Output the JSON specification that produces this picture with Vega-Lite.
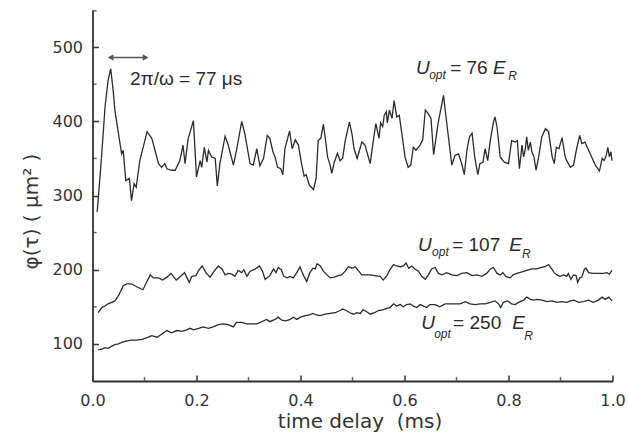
{
  "$schema": "https://vega.github.io/schema/vega-lite/v6.json",
  "width": 520,
  "height": 371,
  "autosize": "none",
  "padding": {"left": 92.5, "top": 10, "right": 15.5, "bottom": 62},
  "background": "white",
  "config": {
    "view": {"stroke": null},
    "axis": {
      "grid": false,
      "domainColor": "#333",
      "domainWidth": 1.8,
      "tickColor": "#333",
      "tickWidth": 1.5,
      "labelFont": "DejaVu Sans",
      "labelFontSize": 16,
      "labelColor": "#333",
      "labelOverlap": false,
      "labelFlush": false,
      "titleFont": "DejaVu Sans",
      "titleFontWeight": "normal",
      "titleColor": "#333"
    }
  },
  "datasets": {
    "u76": [
      {"t":0.009,"phi":278},{"t":0.015,"phi":330},{"t":0.021,"phi":388},{"t":0.024,"phi":419},{"t":0.030,"phi":455},{"t":0.035,"phi":471},{"t":0.040,"phi":440},{"t":0.043,"phi":415},{"t":0.050,"phi":383},{"t":0.056,"phi":356},{"t":0.059,"phi":361},{"t":0.064,"phi":320},{"t":0.071,"phi":323},{"t":0.075,"phi":293},{"t":0.080,"phi":316},{"t":0.084,"phi":311},{"t":0.091,"phi":347},{"t":0.105,"phi":386},{"t":0.114,"phi":377},{"t":0.127,"phi":343},{"t":0.133,"phi":338},{"t":0.139,"phi":343},{"t":0.143,"phi":336},{"t":0.152,"phi":334},{"t":0.159,"phi":334},{"t":0.168,"phi":347},{"t":0.174,"phi":368},{"t":0.178,"phi":343},{"t":0.184,"phi":377},{"t":0.188,"phi":386},{"t":0.194,"phi":401},{"t":0.200,"phi":325},{"t":0.207,"phi":347},{"t":0.210,"phi":338},{"t":0.215,"phi":365},{"t":0.220,"phi":345},{"t":0.223,"phi":361},{"t":0.229,"phi":352},{"t":0.236,"phi":350},{"t":0.240,"phi":313},{"t":0.245,"phi":343},{"t":0.255,"phi":380},{"t":0.261,"phi":368},{"t":0.271,"phi":341},{"t":0.277,"phi":361},{"t":0.287,"phi":400},{"t":0.293,"phi":383},{"t":0.303,"phi":343},{"t":0.309,"phi":341},{"t":0.316,"phi":363},{"t":0.322,"phi":340},{"t":0.329,"phi":350},{"t":0.336,"phi":381},{"t":0.341,"phi":377},{"t":0.347,"phi":359},{"t":0.351,"phi":352},{"t":0.356,"phi":338},{"t":0.362,"phi":336},{"t":0.366,"phi":328},{"t":0.370,"phi":363},{"t":0.379,"phi":387},{"t":0.384,"phi":363},{"t":0.390,"phi":375},{"t":0.396,"phi":368},{"t":0.402,"phi":343},{"t":0.407,"phi":326},{"t":0.411,"phi":328},{"t":0.417,"phi":314},{"t":0.425,"phi":308},{"t":0.430,"phi":323},{"t":0.434,"phi":374},{"t":0.439,"phi":377},{"t":0.444,"phi":396},{"t":0.449,"phi":370},{"t":0.452,"phi":352},{"t":0.457,"phi":341},{"t":0.460,"phi":330},{"t":0.465,"phi":345},{"t":0.471,"phi":357},{"t":0.476,"phi":347},{"t":0.481,"phi":350},{"t":0.486,"phi":374},{"t":0.494,"phi":399},{"t":0.499,"phi":383},{"t":0.503,"phi":363},{"t":0.509,"phi":350},{"t":0.518,"phi":372},{"t":0.524,"phi":368},{"t":0.534,"phi":343},{"t":0.540,"phi":374},{"t":0.545,"phi":397},{"t":0.551,"phi":377},{"t":0.554,"phi":398},{"t":0.558,"phi":393},{"t":0.561,"phi":408},{"t":0.565,"phi":413},{"t":0.567,"phi":398},{"t":0.571,"phi":415},{"t":0.576,"phi":404},{"t":0.580,"phi":428},{"t":0.585,"phi":406},{"t":0.590,"phi":408},{"t":0.595,"phi":383},{"t":0.601,"phi":352},{"t":0.607,"phi":338},{"t":0.612,"phi":341},{"t":0.617,"phi":365},{"t":0.622,"phi":361},{"t":0.630,"phi":368},{"t":0.635,"phi":375},{"t":0.640,"phi":415},{"t":0.646,"phi":410},{"t":0.651,"phi":404},{"t":0.656,"phi":355},{"t":0.665,"phi":399},{"t":0.675,"phi":435},{"t":0.681,"phi":399},{"t":0.691,"phi":341},{"t":0.697,"phi":354},{"t":0.704,"phi":356},{"t":0.710,"phi":343},{"t":0.715,"phi":328},{"t":0.720,"phi":361},{"t":0.725,"phi":379},{"t":0.730,"phi":384},{"t":0.735,"phi":352},{"t":0.741,"phi":328},{"t":0.745,"phi":343},{"t":0.751,"phi":345},{"t":0.755,"phi":363},{"t":0.760,"phi":347},{"t":0.765,"phi":374},{"t":0.771,"phi":399},{"t":0.774,"phi":406},{"t":0.778,"phi":392},{"t":0.784,"phi":352},{"t":0.792,"phi":345},{"t":0.800,"phi":343},{"t":0.806,"phi":374},{"t":0.813,"phi":372},{"t":0.817,"phi":374},{"t":0.821,"phi":336},{"t":0.826,"phi":368},{"t":0.829,"phi":352},{"t":0.832,"phi":361},{"t":0.835,"phi":379},{"t":0.838,"phi":361},{"t":0.842,"phi":372},{"t":0.845,"phi":359},{"t":0.849,"phi":352},{"t":0.853,"phi":334},{"t":0.858,"phi":352},{"t":0.864,"phi":379},{"t":0.871,"phi":390},{"t":0.877,"phi":386},{"t":0.884,"phi":352},{"t":0.888,"phi":343},{"t":0.892,"phi":365},{"t":0.897,"phi":363},{"t":0.903,"phi":378},{"t":0.909,"phi":352},{"t":0.912,"phi":347},{"t":0.919,"phi":338},{"t":0.925,"phi":341},{"t":0.931,"phi":363},{"t":0.937,"phi":381},{"t":0.941,"phi":370},{"t":0.947,"phi":372},{"t":0.954,"phi":361},{"t":0.960,"phi":352},{"t":0.967,"phi":341},{"t":0.975,"phi":333},{"t":0.980,"phi":350},{"t":0.984,"phi":347},{"t":0.988,"phi":354},{"t":0.991,"phi":365},{"t":0.994,"phi":352},{"t":0.997,"phi":359},{"t":0.999,"phi":347}
    ],
    "u107": [
      {"t":0.011,"phi":142},{"t":0.018,"phi":149},{"t":0.024,"phi":151},{"t":0.030,"phi":154},{"t":0.037,"phi":156},{"t":0.043,"phi":158},{"t":0.050,"phi":165},{"t":0.059,"phi":178},{"t":0.066,"phi":181},{"t":0.075,"phi":181},{"t":0.085,"phi":177},{"t":0.097,"phi":173},{"t":0.104,"phi":183},{"t":0.111,"phi":193},{"t":0.117,"phi":189},{"t":0.127,"phi":189},{"t":0.135,"phi":186},{"t":0.143,"phi":190},{"t":0.151,"phi":195},{"t":0.161,"phi":186},{"t":0.168,"phi":190},{"t":0.177,"phi":196},{"t":0.181,"phi":190},{"t":0.186,"phi":183},{"t":0.191,"phi":191},{"t":0.199,"phi":192},{"t":0.204,"phi":199},{"t":0.211,"phi":205},{"t":0.218,"phi":196},{"t":0.226,"phi":190},{"t":0.234,"phi":198},{"t":0.242,"phi":205},{"t":0.249,"phi":201},{"t":0.255,"phi":193},{"t":0.261,"phi":195},{"t":0.268,"phi":194},{"t":0.274,"phi":191},{"t":0.280,"phi":199},{"t":0.287,"phi":196},{"t":0.291,"phi":200},{"t":0.297,"phi":191},{"t":0.303,"phi":198},{"t":0.311,"phi":200},{"t":0.321,"phi":205},{"t":0.327,"phi":198},{"t":0.332,"phi":187},{"t":0.341,"phi":192},{"t":0.348,"phi":201},{"t":0.353,"phi":196},{"t":0.357,"phi":203},{"t":0.363,"phi":200},{"t":0.368,"phi":191},{"t":0.374,"phi":189},{"t":0.380,"phi":191},{"t":0.386,"phi":189},{"t":0.393,"phi":196},{"t":0.399,"phi":204},{"t":0.406,"phi":192},{"t":0.412,"phi":184},{"t":0.418,"phi":196},{"t":0.424,"phi":202},{"t":0.428,"phi":201},{"t":0.432,"phi":208},{"t":0.438,"phi":205},{"t":0.444,"phi":198},{"t":0.451,"phi":193},{"t":0.457,"phi":189},{"t":0.465,"phi":190},{"t":0.473,"phi":192},{"t":0.479,"phi":193},{"t":0.486,"phi":198},{"t":0.492,"phi":204},{"t":0.499,"phi":202},{"t":0.505,"phi":204},{"t":0.511,"phi":199},{"t":0.518,"phi":193},{"t":0.526,"phi":193},{"t":0.534,"phi":193},{"t":0.543,"phi":192},{"t":0.553,"phi":191},{"t":0.559,"phi":186},{"t":0.566,"phi":192},{"t":0.572,"phi":200},{"t":0.579,"phi":207},{"t":0.585,"phi":205},{"t":0.592,"phi":204},{"t":0.598,"phi":205},{"t":0.603,"phi":209},{"t":0.608,"phi":202},{"t":0.614,"phi":205},{"t":0.620,"phi":201},{"t":0.627,"phi":198},{"t":0.633,"phi":191},{"t":0.640,"phi":187},{"t":0.646,"phi":193},{"t":0.652,"phi":201},{"t":0.659,"phi":203},{"t":0.665,"phi":195},{"t":0.672,"phi":193},{"t":0.681,"phi":196},{"t":0.691,"phi":193},{"t":0.701,"phi":192},{"t":0.710,"phi":195},{"t":0.720,"phi":196},{"t":0.730,"phi":192},{"t":0.739,"phi":193},{"t":0.749,"phi":191},{"t":0.758,"phi":195},{"t":0.765,"phi":201},{"t":0.771,"phi":203},{"t":0.778,"phi":195},{"t":0.784,"phi":193},{"t":0.789,"phi":196},{"t":0.795,"phi":191},{"t":0.803,"phi":189},{"t":0.809,"phi":193},{"t":0.816,"phi":195},{"t":0.826,"phi":197},{"t":0.835,"phi":199},{"t":0.845,"phi":201},{"t":0.854,"phi":201},{"t":0.864,"phi":203},{"t":0.870,"phi":204},{"t":0.877,"phi":207},{"t":0.882,"phi":202},{"t":0.888,"phi":196},{"t":0.893,"phi":193},{"t":0.899,"phi":191},{"t":0.906,"phi":193},{"t":0.912,"phi":191},{"t":0.915,"phi":195},{"t":0.920,"phi":187},{"t":0.925,"phi":193},{"t":0.930,"phi":192},{"t":0.933,"phi":183},{"t":0.937,"phi":189},{"t":0.941,"phi":190},{"t":0.946,"phi":201},{"t":0.949,"phi":202},{"t":0.954,"phi":196},{"t":0.963,"phi":195},{"t":0.973,"phi":195},{"t":0.983,"phi":195},{"t":0.989,"phi":196},{"t":0.994,"phi":194},{"t":0.999,"phi":199}
    ],
    "u250": [
      {"t":0.011,"phi":92},{"t":0.018,"phi":93},{"t":0.024,"phi":95},{"t":0.030,"phi":94},{"t":0.037,"phi":97},{"t":0.043,"phi":99},{"t":0.050,"phi":100},{"t":0.056,"phi":102},{"t":0.066,"phi":104},{"t":0.075,"phi":105},{"t":0.085,"phi":105},{"t":0.095,"phi":106},{"t":0.104,"phi":108},{"t":0.114,"phi":111},{"t":0.124,"phi":109},{"t":0.133,"phi":113},{"t":0.143,"phi":118},{"t":0.152,"phi":115},{"t":0.162,"phi":118},{"t":0.172,"phi":117},{"t":0.181,"phi":119},{"t":0.188,"phi":121},{"t":0.194,"phi":119},{"t":0.204,"phi":121},{"t":0.213,"phi":123},{"t":0.223,"phi":121},{"t":0.232,"phi":123},{"t":0.242,"phi":126},{"t":0.252,"phi":127},{"t":0.261,"phi":126},{"t":0.271,"phi":123},{"t":0.277,"phi":129},{"t":0.287,"phi":129},{"t":0.297,"phi":127},{"t":0.306,"phi":127},{"t":0.316,"phi":127},{"t":0.326,"phi":130},{"t":0.335,"phi":133},{"t":0.341,"phi":130},{"t":0.351,"phi":133},{"t":0.357,"phi":136},{"t":0.364,"phi":132},{"t":0.372,"phi":131},{"t":0.380,"phi":133},{"t":0.386,"phi":136},{"t":0.393,"phi":133},{"t":0.400,"phi":136},{"t":0.409,"phi":138},{"t":0.417,"phi":139},{"t":0.424,"phi":141},{"t":0.430,"phi":139},{"t":0.438,"phi":138},{"t":0.447,"phi":140},{"t":0.457,"phi":141},{"t":0.467,"phi":142},{"t":0.476,"phi":145},{"t":0.481,"phi":147},{"t":0.488,"phi":145},{"t":0.495,"phi":142},{"t":0.502,"phi":140},{"t":0.508,"phi":142},{"t":0.515,"phi":141},{"t":0.520,"phi":146},{"t":0.526,"phi":144},{"t":0.534,"phi":140},{"t":0.542,"phi":142},{"t":0.550,"phi":145},{"t":0.558,"phi":146},{"t":0.566,"phi":148},{"t":0.572,"phi":149},{"t":0.579,"phi":154},{"t":0.585,"phi":151},{"t":0.592,"phi":153},{"t":0.598,"phi":150},{"t":0.604,"phi":153},{"t":0.611,"phi":154},{"t":0.617,"phi":151},{"t":0.624,"phi":149},{"t":0.630,"phi":153},{"t":0.637,"phi":151},{"t":0.643,"phi":149},{"t":0.649,"phi":153},{"t":0.659,"phi":153},{"t":0.668,"phi":150},{"t":0.678,"phi":154},{"t":0.688,"phi":154},{"t":0.697,"phi":154},{"t":0.707,"phi":154},{"t":0.717,"phi":157},{"t":0.726,"phi":154},{"t":0.736,"phi":153},{"t":0.745,"phi":154},{"t":0.755,"phi":154},{"t":0.765,"phi":156},{"t":0.774,"phi":158},{"t":0.781,"phi":154},{"t":0.785,"phi":149},{"t":0.790,"phi":156},{"t":0.798,"phi":158},{"t":0.806,"phi":154},{"t":0.813,"phi":153},{"t":0.819,"phi":156},{"t":0.829,"phi":159},{"t":0.835,"phi":163},{"t":0.842,"phi":160},{"t":0.848,"phi":159},{"t":0.855,"phi":160},{"t":0.864,"phi":159},{"t":0.874,"phi":157},{"t":0.884,"phi":158},{"t":0.893,"phi":156},{"t":0.903,"phi":157},{"t":0.912,"phi":156},{"t":0.919,"phi":158},{"t":0.926,"phi":159},{"t":0.935,"phi":156},{"t":0.944,"phi":157},{"t":0.954,"phi":159},{"t":0.963,"phi":156},{"t":0.973,"phi":159},{"t":0.980,"phi":163},{"t":0.986,"phi":160},{"t":0.993,"phi":163},{"t":0.999,"phi":158}
    ]
  },
  "layer": [
    {
      "data": {"name": "u76"},
      "mark": {"type": "line", "color": "#2b2b2b", "strokeWidth": 1.3},
      "encoding": {
        "x": {
          "field": "t", "type": "quantitative",
          "scale": {"domain": [0, 1], "nice": false},
          "axis": {
            "title": "time delay\u00a0\u00a0(ms)",
            "titleFontSize": 20,
            "titleX": 267,
            "titleY": 46,
            "titleBaseline": "alphabetic",
            "titleAlign": "center",
            "tickSize": -6,
            "labelPadding": 17,
            "values": [0, 0.2, 0.4, 0.6, 0.8, 1.0],
            "format": ".1f"
          }
        },
        "y": {
          "field": "phi", "type": "quantitative",
          "scale": {"domain": [50, 550], "nice": false, "zero": false},
          "axis": {
            "title": "φ(τ) ( μm² )",
            "titleFontSize": 20,
            "titleX": -55.5,
            "titleY": 201,
            "titleAngle": -90,
            "titleBaseline": "alphabetic",
            "titleAlign": "center",
            "tickSize": -6,
            "labelPadding": 16,
            "values": [100, 200, 300, 400, 500],
            "format": "d"
          }
        }
      }
    },
    {
      "data": {"name": "u107"},
      "mark": {"type": "line", "color": "#2b2b2b", "strokeWidth": 1.3},
      "encoding": {
        "x": {"field": "t", "type": "quantitative"},
        "y": {"field": "phi", "type": "quantitative"}
      }
    },
    {
      "data": {"name": "u250"},
      "mark": {"type": "line", "color": "#2b2b2b", "strokeWidth": 1.3},
      "encoding": {
        "x": {"field": "t", "type": "quantitative"},
        "y": {"field": "phi", "type": "quantitative"}
      }
    },
    {
      "data": {"values": [{"phi": 150}, {"phi": 250}, {"phi": 350}, {"phi": 450}, {"phi": 549}]},
      "mark": {"type": "tick", "orient": "horizontal", "color": "#333", "size": 4, "thickness": 1.5},
      "encoding": {
        "x": {"datum": 0.0042, "type": "quantitative"},
        "y": {"field": "phi", "type": "quantitative"}
      }
    },
    {
      "data": {"values": [{"t": 0.1}, {"t": 0.3}, {"t": 0.5}, {"t": 0.7}, {"t": 0.9}]},
      "mark": {"type": "tick", "orient": "vertical", "color": "#333", "size": 4, "thickness": 1.5},
      "encoding": {
        "x": {"field": "t", "type": "quantitative"},
        "y": {"datum": 52.9, "type": "quantitative"}
      }
    },
    {
      "data": {"values": [{"t": 0.032, "t2": 0.105, "phi": 486}]},
      "mark": {"type": "rule", "color": "#555", "strokeWidth": 1.4},
      "encoding": {
        "x": {"field": "t", "type": "quantitative"},
        "x2": {"field": "t2"},
        "y": {"field": "phi", "type": "quantitative"}
      }
    },
    {
      "data": {"values": [{"t": 0.035, "phi": 486}]},
      "mark": {"type": "point", "shape": "triangle-left", "filled": true, "color": "#555", "size": 40, "opacity": 1},
      "encoding": {
        "x": {"field": "t", "type": "quantitative"},
        "y": {"field": "phi", "type": "quantitative"}
      }
    },
    {
      "data": {"values": [{"t": 0.102, "phi": 486}]},
      "mark": {"type": "point", "shape": "triangle-right", "filled": true, "color": "#555", "size": 40, "opacity": 1},
      "encoding": {
        "x": {"field": "t", "type": "quantitative"},
        "y": {"field": "phi", "type": "quantitative"}
      }
    },
    {
      "data": {"values": [{"t": 0.0721, "phi": 448.6, "label": "2π/ω = 77 μs"}]},
      "mark": {"type": "text", "align": "left", "baseline": "alphabetic", "font": "Liberation Sans", "fontSize": 19, "color": "#2b2b2b"},
      "encoding": {
        "x": {"field": "t", "type": "quantitative"},
        "y": {"field": "phi", "type": "quantitative"},
        "text": {"field": "label"}
      }
    },
    {
      "data": {"values": [
        {"t": 0.6222, "phi": 463.5, "label": "U"},
        {"t": 0.7703, "phi": 463.5, "label": "E"},
        {"t": 0.6262, "phi": 225.7, "label": "U"},
        {"t": 0.8013, "phi": 225.7, "label": "E"},
        {"t": 0.6320, "phi": 120.3, "label": "U"},
        {"t": 0.8070, "phi": 120.3, "label": "E"}
      ]},
      "mark": {"type": "text", "align": "left", "baseline": "alphabetic", "font": "Liberation Sans", "fontSize": 19, "fontStyle": "italic", "color": "#2b2b2b"},
      "encoding": {
        "x": {"field": "t", "type": "quantitative"},
        "y": {"field": "phi", "type": "quantitative"},
        "text": {"field": "label"}
      }
    },
    {
      "data": {"values": [
        {"t": 0.6474, "phi": 456.8, "label": "opt"},
        {"t": 0.7993, "phi": 455.4, "label": "R"},
        {"t": 0.6531, "phi": 218.9, "label": "opt"},
        {"t": 0.8262, "phi": 216.2, "label": "R"},
        {"t": 0.6570, "phi": 108.5, "label": "opt"},
        {"t": 0.8301, "phi": 105.4, "label": "R"}
      ]},
      "mark": {"type": "text", "align": "left", "baseline": "alphabetic", "font": "Liberation Sans", "fontSize": 12, "fontStyle": "italic", "color": "#2b2b2b"},
      "encoding": {
        "x": {"field": "t", "type": "quantitative"},
        "y": {"field": "phi", "type": "quantitative"},
        "text": {"field": "label"}
      }
    },
    {
      "data": {"values": [
        {"t": 0.6878, "phi": 463.5, "label": "= 76"},
        {"t": 0.6916, "phi": 225.7, "label": "= 107"},
        {"t": 0.6935, "phi": 120.3, "label": "= 250"}
      ]},
      "mark": {"type": "text", "align": "left", "baseline": "alphabetic", "font": "Liberation Sans", "fontSize": 19, "color": "#2b2b2b"},
      "encoding": {
        "x": {"field": "t", "type": "quantitative"},
        "y": {"field": "phi", "type": "quantitative"},
        "text": {"field": "label"}
      }
    }
  ]
}
